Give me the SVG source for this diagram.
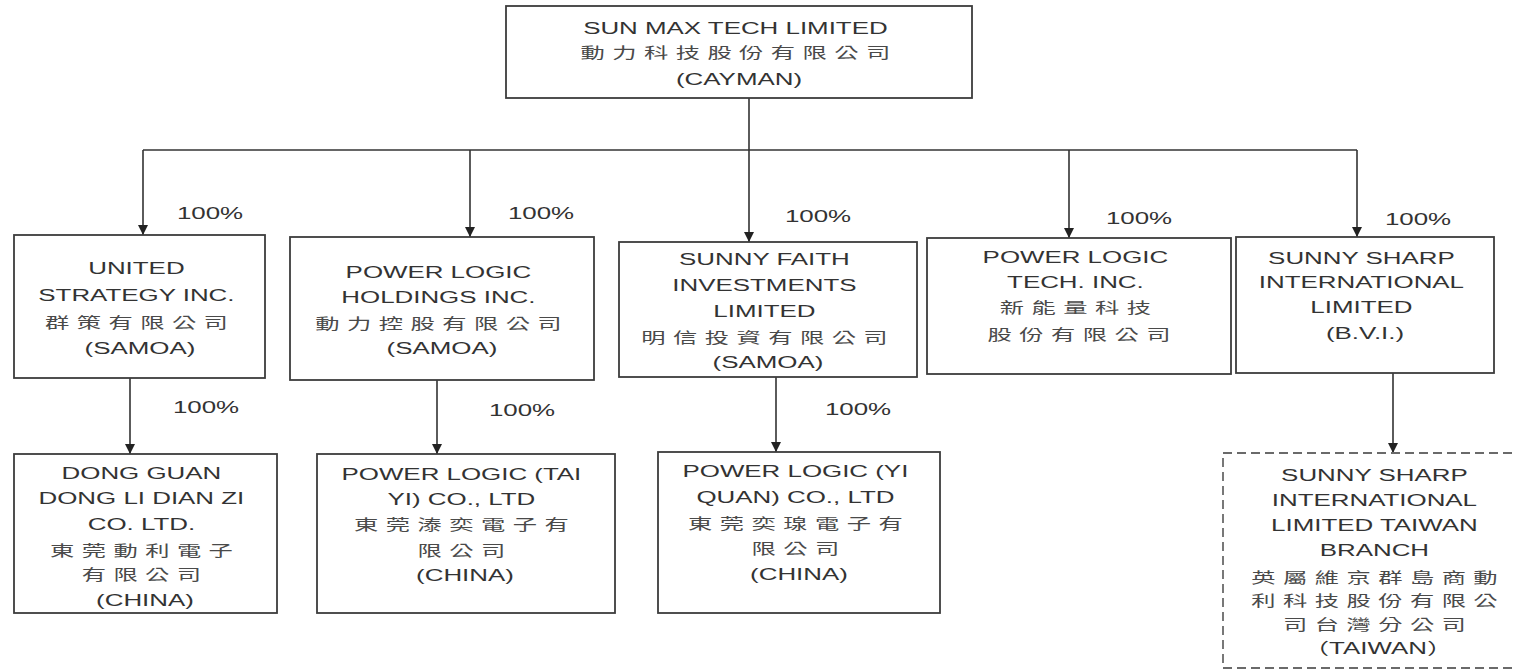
<svg xmlns="http://www.w3.org/2000/svg" width="1515" height="670" viewBox="0 0 1515 670">
<defs>
<style>
.box{fill:#fff;stroke:#3c3c3c;stroke-width:1.8}
.dash{fill:#fff;stroke:#6a6a6a;stroke-width:1.8;stroke-dasharray:9 5}
.ln{fill:none;stroke:#333;stroke-width:1.6}
text{font-family:"Liberation Sans","Noto Sans CJK TC",sans-serif;font-size:16px;fill:#333;text-anchor:middle}
.cjk{font-family:"Noto Sans CJK TC",sans-serif;font-size:15px;fill:#4a4a4a;letter-spacing:4.6px}
</style>
<marker id="ah" markerUnits="userSpaceOnUse" viewBox="0 0 10 10" markerWidth="11" markerHeight="10" refX="10" refY="5" orient="auto">
<path d="M0,0 L10,5 L0,10 z" fill="#222"/>
</marker>
</defs>
<rect width="1515" height="670" fill="#fff"/>

<g id="connectors">
<path class="ln" d="M143,150 H1357"/>
<path class="ln" d="M749,98 V242" marker-end="url(#ah)"/>
<path class="ln" d="M143,150 V235" marker-end="url(#ah)"/>
<path class="ln" d="M470,150 V237" marker-end="url(#ah)"/>
<path class="ln" d="M1069,150 V238" marker-end="url(#ah)"/>
<path class="ln" d="M1357,150 V237" marker-end="url(#ah)"/>
<path class="ln" d="M130,378 V454" marker-end="url(#ah)"/>
<path class="ln" d="M437,380 V454" marker-end="url(#ah)"/>
<path class="ln" d="M776,377 V452" marker-end="url(#ah)"/>
<path class="ln" d="M1393,373 V453" marker-end="url(#ah)"/>
</g>

<g id="labels">
<text transform="translate(210,0) scale(1.62 1)" x="0" y="219">100%</text>
<text transform="translate(541,0) scale(1.62 1)" x="0" y="219">100%</text>
<text transform="translate(818,0) scale(1.62 1)" x="0" y="222">100%</text>
<text transform="translate(1139,0) scale(1.62 1)" x="0" y="224">100%</text>
<text transform="translate(1418,0) scale(1.62 1)" x="0" y="225">100%</text>
<text transform="translate(206,0) scale(1.62 1)" x="0" y="413">100%</text>
<text transform="translate(522,0) scale(1.62 1)" x="0" y="416">100%</text>
<text transform="translate(858,0) scale(1.62 1)" x="0" y="415">100%</text>
</g>

<g id="sunmax">
<rect class="box" x="506" y="6" width="466" height="92"/>
<text transform="translate(739,0) scale(1.62 1)">
<tspan x="0" y="34">SUN MAX TECH LIMITED</tspan>
<tspan class="cjk" x="2.3" y="58">動力科技股份有限公司</tspan>
<tspan x="0" y="85">(CAYMAN)</tspan>
</text>
</g>

<g id="united">
<rect class="box" x="14" y="235" width="251" height="143"/>
<text transform="translate(140,0) scale(1.62 1)">
<tspan x="0" y="274">UNITED</tspan>
<tspan x="0" y="301">STRATEGY INC.</tspan>
<tspan class="cjk" x="2.3" y="328">群策有限公司</tspan>
<tspan x="0" y="354">(SAMOA)</tspan>
</text>
</g>

<g id="plholdings">
<rect class="box" x="290" y="237" width="304" height="143"/>
<text transform="translate(442,0) scale(1.62 1)">
<tspan x="0" y="278">POWER LOGIC</tspan>
<tspan x="0" y="303">HOLDINGS INC.</tspan>
<tspan class="cjk" x="2.3" y="329">動力控股有限公司</tspan>
<tspan x="0" y="354">(SAMOA)</tspan>
</text>
</g>

<g id="sunnyfaith">
<rect class="box" x="619" y="242" width="298" height="135"/>
<text transform="translate(768,0) scale(1.62 1)">
<tspan x="0" y="265">SUNNY FAITH</tspan>
<tspan x="0" y="291">INVESTMENTS</tspan>
<tspan x="0" y="317">LIMITED</tspan>
<tspan class="cjk" x="2.3" y="343">明信投資有限公司</tspan>
<tspan x="0" y="368">(SAMOA)</tspan>
</text>
</g>

<g id="pltech">
<rect class="box" x="927" y="238" width="304" height="136"/>
<text transform="translate(1079,0) scale(1.62 1)">
<tspan x="0" y="263">POWER LOGIC</tspan>
<tspan x="0" y="288">TECH. INC.</tspan>
<tspan class="cjk" x="2.3" y="313">新能量科技</tspan>
<tspan class="cjk" x="2.3" y="340">股份有限公司</tspan>
</text>
</g>

<g id="sunnysharp">
<rect class="box" x="1236" y="237" width="258" height="136"/>
<text transform="translate(1365,0) scale(1.62 1)">
<tspan x="0" y="264">SUNNY SHARP</tspan>
<tspan x="0" y="288">INTERNATIONAL</tspan>
<tspan x="0" y="313">LIMITED</tspan>
<tspan x="0" y="339">(B.V.I.)</tspan>
</text>
</g>

<g id="dongguan">
<rect class="box" x="14" y="454" width="263" height="159"/>
<text transform="translate(145,0) scale(1.62 1)">
<tspan x="0" y="479">DONG GUAN</tspan>
<tspan x="0" y="504">DONG LI DIAN ZI</tspan>
<tspan x="0" y="530">CO. LTD.</tspan>
<tspan class="cjk" x="2.3" y="556">東莞動利電子</tspan>
<tspan class="cjk" x="2.3" y="580">有限公司</tspan>
<tspan x="0" y="606">(CHINA)</tspan>
</text>
</g>

<g id="taiyi">
<rect class="box" x="317" y="454" width="298" height="159"/>
<text transform="translate(465,0) scale(1.62 1)">
<tspan x="0" y="480">POWER LOGIC (TAI</tspan>
<tspan x="0" y="505">YI) CO., LTD</tspan>
<tspan class="cjk" x="2.3" y="530">東莞溙奕電子有</tspan>
<tspan class="cjk" x="2.3" y="556">限公司</tspan>
<tspan x="0" y="581">(CHINA)</tspan>
</text>
</g>

<g id="yiquan">
<rect class="box" x="658" y="452" width="282" height="161"/>
<text transform="translate(799,0) scale(1.62 1)">
<tspan x="0" y="477">POWER LOGIC (YI</tspan>
<tspan x="0" y="503">QUAN) CO., LTD</tspan>
<tspan class="cjk" x="2.3" y="529">東莞奕瑔電子有</tspan>
<tspan class="cjk" x="2.3" y="554">限公司</tspan>
<tspan x="0" y="580">(CHINA)</tspan>
</text>
</g>

<g id="taiwanbranch">
<rect class="dash" x="1223" y="453" width="310" height="215"/>
<text transform="translate(1378,0) scale(1.62 1)">
<tspan x="0" y="481">SUNNY SHARP</tspan>
<tspan x="0" y="506">INTERNATIONAL</tspan>
<tspan x="0" y="531">LIMITED TAIWAN</tspan>
<tspan x="0" y="556">BRANCH</tspan>
<tspan class="cjk" x="2.3" y="583">英屬維京群島商動</tspan>
<tspan class="cjk" x="2.3" y="606">利科技股份有限公</tspan>
<tspan class="cjk" x="2.3" y="630">司台灣分公司</tspan>
<tspan x="0" y="654">（TAIWAN）</tspan>
</text>
</g>
</svg>
